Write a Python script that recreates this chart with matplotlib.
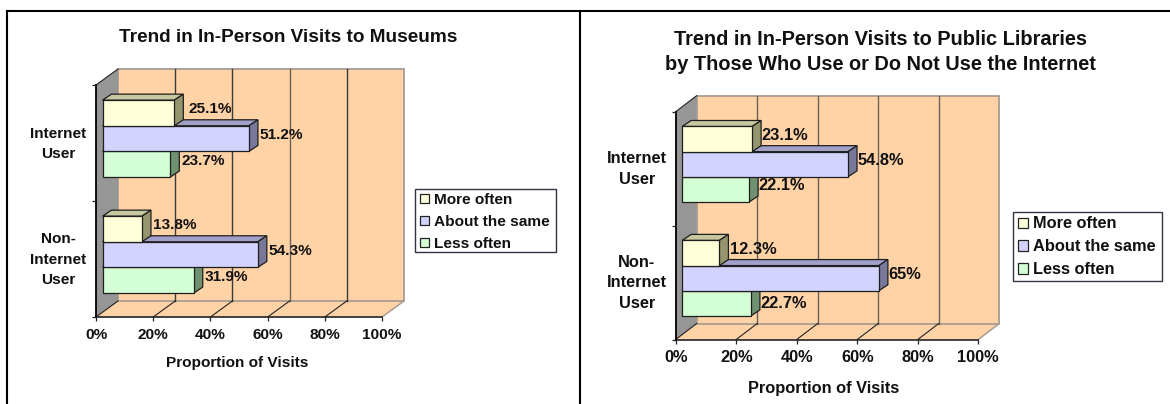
import matplotlib
matplotlib.use("Agg")
import matplotlib.pyplot as plt
from matplotlib.patches import Polygon, Patch, Rectangle
from matplotlib.lines import Line2D
from matplotlib.transforms import IdentityTransform, Affine2D

plt.rcParams['font.family'] = ['Liberation Sans', 'DejaVu Sans']
plt.rcParams['font.weight'] = 'bold'

W, H = 1170, 404
categories = ["Internet\nUser", "Non-\nInternet\nUser"]
series = ["More often", "About the same", "Less often"]
museum_more = [25.1, 13.8]
museum_same = [51.2, 54.3]
museum_less = [23.7, 31.9]
library_more = [23.1, 12.3]
library_same = [54.8, 65]
library_less = [22.1, 22.7]
museum_labels = [["25.1%", "13.8%"], ["51.2%", "54.3%"], ["23.7%", "31.9%"]]
library_labels = [["23.1%", "12.3%"], ["54.8%", "65%"], ["22.1%", "22.7%"]]
x_ticks = [0, 20, 40, 60, 80, 100]
x_tick_labels = ["0%", "20%", "40%", "60%", "80%", "100%"]
x_title = "Proportion of Visits"
museum_title = "Trend in In-Person Visits to Museums"
library_title = "Trend in In-Person Visits to Public Libraries\nby Those Who Use or Do Not Use the Internet"

FRONT = ["#FFFFD9", "#D3D3FF", "#D5FFD5"]
TOP = ["#C8C8A0", "#A0A0C8", "#A0C8A0"]
SIDE = ["#96966E", "#78789A", "#6F916F"]
WALL = "#FFD3A6"
INK = "#111111"

fig = plt.figure(figsize=(W / 100, H / 100), dpi=100, facecolor="white")


def poly(ax, pts, fc, ec="none", lw=0.8, z=1):
    ax.add_patch(Polygon([(x, H - y) for x, y in pts], closed=True, fc=fc, ec=ec, lw=lw,
                         transform=IdentityTransform(), zorder=z, clip_on=False, joinstyle="miter"))


def seg(ax, p, q, c, lw=1.0, z=2):
    ax.add_line(Line2D([p[0], q[0]], [H - p[1], H - q[1]], color=c, lw=lw,
                       transform=IdentityTransform(), zorder=z, clip_on=False))


def draw(box, vals, labels, title, title_xy, xlabel_xy, legend_box, legend_anchor, label_gap, nudges,
         fs, title_fs, grid_cols, ytl_ls, leg_ls, title_ls, ypad, hpad):
    l, t, r, b = box
    ax = fig.add_axes([l / W, 1 - b / H, (r - l) / W, (b - t) / H])
    ax.set_xlim(0, 100)
    ax.set_ylim(1.5, -0.5)
    ax.patch.set_alpha(0)
    for s in ax.spines.values():
        s.set_visible(False)

    D = (22 if l < 500 else 21, 16)
    ppx = (r - l) / 100
    poly(ax, [(l, b), (l + D[0], b - D[1]), (r + D[0], b - D[1]), (r, b)], WALL, z=0.5)
    poly(ax, [(l + D[0], t - D[1]), (r + D[0], t - D[1]), (r + D[0], b - D[1]), (l + D[0], b - D[1])],
         WALL, ec="#A89C90", lw=1.3, z=0.6)
    seg(ax, (r, b), (r + D[0], b - D[1]), "#A89C90", 1.1, 0.7)
    poly(ax, [(l, t), (l + D[0], t - D[1]), (l + D[0], b - D[1]), (l, b)], "#969696", z=0.8)
    for v, c in zip(x_ticks[1:-1], grid_cols):
        x = l + v * ppx
        seg(ax, (x + D[0], t - D[1]), (x + D[0], b - D[1]), c, 1.0, 0.9)
    for v in x_ticks[:-1]:
        x = l + v * ppx
        seg(ax, (x, b), (x + D[0], b - D[1]), "#222222", 0.8, 0.9)
    seg(ax, (l, t), (l + D[0], t - D[1]), "#222222", 0.8, 0.9)
    seg(ax, (l, b), (r, b), "#222222", 1.2, 0.95)
    seg(ax, (l, t), (l, b), "black", 1.3, 0.95)

    bh = 0.221
    sx, sy = 6.5, 4.4
    d = (9, 6)
    zc = 3
    for cat in [1, 0]:
        for i in [2, 1, 0]:
            yc = cat + (i - 1) * bh
            x0, y0 = ax.transData.transform((0, yc - bh / 2))
            x1, y1 = ax.transData.transform((vals[i][cat], yc + bh / 2))
            X0, X1 = x0 + sx, x1 + sx
            ytop, ybot = H - y0 - sy, H - y1 - sy
            ec = "#1E1E1E"
            poly(ax, [(X0, ytop), (X0 + d[0], ytop - d[1]), (X1 + d[0], ytop - d[1]), (X1, ytop)], TOP[i], ec, 0.9, zc)
            poly(ax, [(X1, ytop), (X1 + d[0], ytop - d[1]), (X1 + d[0], ybot - d[1]), (X1, ybot)], SIDE[i], ec, 0.9, zc)
            poly(ax, [(X0, ytop), (X1, ytop), (X1, ybot), (X0, ybot)], FRONT[i], ec, 0.9, zc)
            zc += 0.1
            nx, ny = nudges.get((i, cat), (0, 0))
            ax.annotate(labels[i][cat], xy=(vals[i][cat], yc),
                        xytext=(sx + d[0] + label_gap + nx, sy + 3.6 + ny),
                        xycoords="data", textcoords="offset pixels",
                        ha="left", va="center", fontsize=fs, fontweight="bold", color=INK, zorder=20,
                        annotation_clip=False)

    ax.set_xticks(x_ticks, x_tick_labels, fontsize=fs, fontweight="bold", color=INK)
    ax.set_yticks([0, 1], categories, fontsize=fs, fontweight="bold", color=INK, multialignment="center",
                  linespacing=ytl_ls)
    ax.set_yticks([-0.5, 0.5, 1.5], minor=True)
    ax.tick_params(axis="y", which="major", length=0, pad=ypad)
    ax.tick_params(axis="y", which="minor", length=3, width=0.9, color="#222222", direction="out")
    ax.tick_params(axis="x", length=3, width=0.9, color="#222222", pad=4.7, direction="out")
    for lab in ax.get_yticklabels():
        lab.set_transform(lab.get_transform() + Affine2D().translate(0, 4))

    fig.text(title_xy[0] / W, 1 - title_xy[1] / H, title, ha="center", va="center", fontsize=title_fs,
             fontweight="bold", color=INK, linespacing=title_ls)
    fig.text(xlabel_xy[0] / W, 1 - xlabel_xy[1] / H, x_title, ha="center", va="center", fontsize=fs,
             fontweight="bold", color=INK)

    lx0, ly0, lx1, ly1 = legend_box
    fig.add_artist(Rectangle((lx0 / W, 1 - ly1 / H), (lx1 - lx0) / W, (ly1 - ly0) / H, transform=fig.transFigure,
                             fc="white", ec="#333344", lw=1.0))
    handles = [Patch(fc=FRONT[i], ec="#222222", lw=0.9, label=series[i]) for i in range(3)]
    leg = fig.legend(handles=handles, loc="upper left", ncol=1,
                     bbox_to_anchor=(legend_anchor[0] / W, 1 - legend_anchor[1] / H), bbox_transform=fig.transFigure,
                     borderaxespad=0, borderpad=0, fontsize=fs, frameon=False,
                     handlelength=0.58, handleheight=0.6, handletextpad=hpad, labelspacing=leg_ls)
    for txt in leg.get_texts():
        txt.set_color(INK)
        txt.set_fontweight("bold")


GL = "#3A3A3A"
GR = "#6A6058"
draw((96, 85, 382, 317), [museum_more, museum_same, museum_less], museum_labels, museum_title,
     (288.5, 37.5), (237, 363), (414.5, 188.5, 556, 252), (420, 193), 2.0, {(0, 0): (3, 0)},
     11.1, 13.65, [GL, GL, GR, GL], 1.6, 0.52, 1.3, 7, 0.3)
draw((675.7, 111.7, 978.3, 339.5), [library_more, library_same, library_less], library_labels, library_title,
     (880, 52), (823.5, 389), (1012.7, 212, 1162, 281), (1018.3, 216.5), 0.5, {(2, 1): (0, -4), (0, 1): (1.5, 0)},
     11.75, 14.45, [GR, GR, GR, GR], 1.45, 0.48, 1.38, 6.5, 0.32)

for (x0, y0, x1, y1) in [(6.5, 11, 1170, 11), (6.5, 11, 6.5, 404), (580, 11, 580, 404)]:
    fig.add_artist(Line2D([x0 / W, x1 / W], [1 - y0 / H, 1 - y1 / H], color="black", lw=1.5))

fig.savefig("out.png", dpi=100)
